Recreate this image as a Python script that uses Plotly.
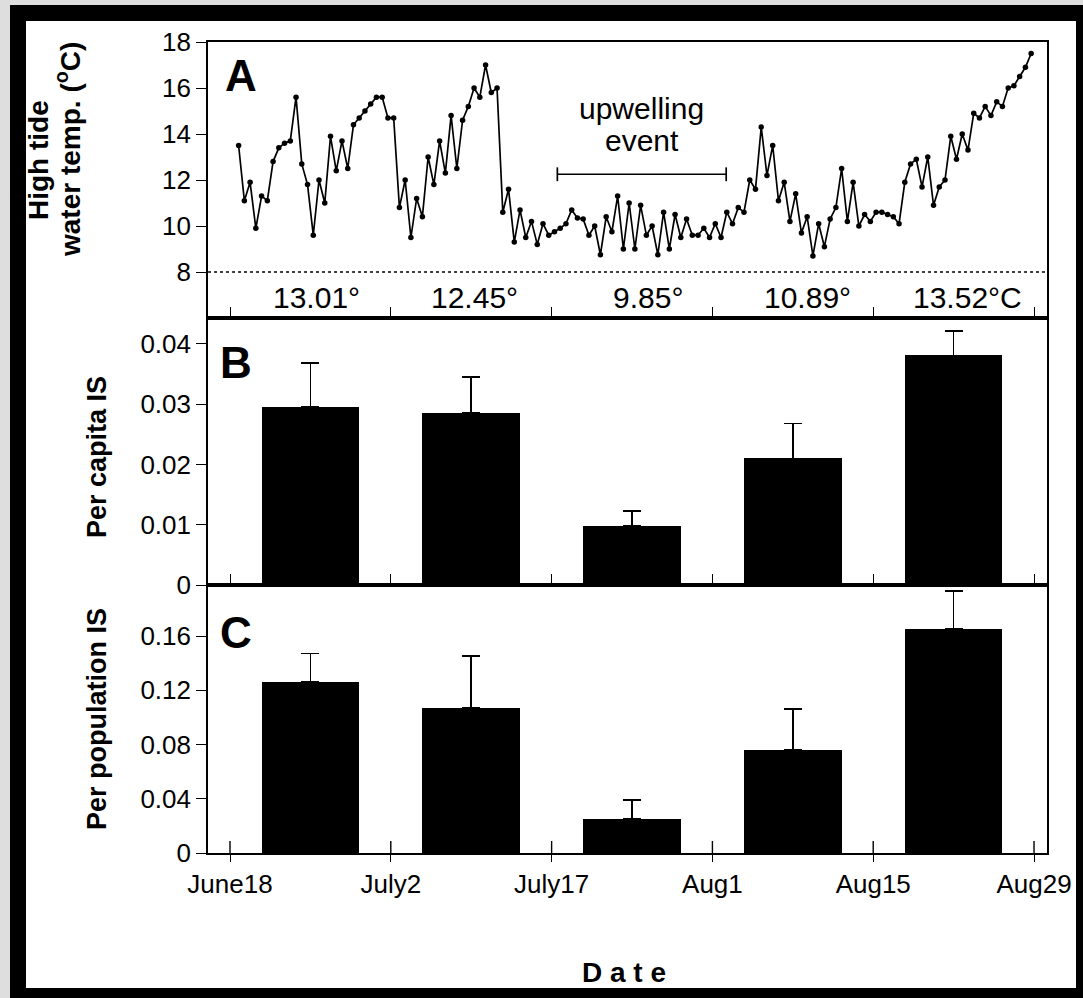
import plotly.graph_objects as go

# ---------------- data ----------------
# High-tide water temperature (deg C), two high tides per day from June 18
temp = [13.5, 11.1, 11.9, 9.9, 11.3, 11.1, 12.8, 13.4, 13.6, 13.7, 15.6, 12.7,
        11.8, 9.6, 12.0, 11.0, 13.9, 12.4, 13.7, 12.5, 14.4, 14.7, 15.0,
        15.3, 15.6, 15.6, 14.7, 14.7, 10.8, 12.0, 9.5, 11.2, 10.4, 13.0, 11.8,
        13.7, 12.3, 14.8, 12.5, 14.6, 15.2, 16.0, 15.6, 17.0, 15.8, 16.0,
        10.6, 11.6, 9.3, 10.7, 9.5, 10.2, 9.2, 10.1, 9.6, 9.75, 9.9, 10.1,
        10.7, 10.35, 10.3, 9.6, 10.0, 8.75, 10.4, 9.75, 11.3, 9.0, 11.0, 9.0,
        10.9, 9.6, 10.0, 8.75, 10.6, 9.0, 10.5, 9.5, 10.3, 9.6, 9.6, 9.9, 9.5,
        10.1, 9.5, 10.6, 10.1, 10.8, 10.6, 12.0, 11.6,
        14.3, 12.2, 13.5, 11.1, 11.9, 10.2, 11.4, 9.7, 10.4, 8.7, 10.1, 9.1,
        10.3, 10.8, 12.5, 10.2, 11.9, 10.0, 10.5, 10.2, 10.6, 10.6, 10.5, 10.4,
        10.1, 11.9, 12.7, 12.9, 11.7, 13.0, 10.9, 11.7, 12.0, 13.9, 12.9, 14.0,
        13.3, 14.9, 14.7, 15.2, 14.8, 15.4, 15.2, 16.0, 16.1, 16.5, 16.9, 17.5]
first_tide_day = 0.75      # days after June 18 of the first record
tide_step = 0.5            # semi-diurnal high tides
obs_day = [first_tide_day + tide_step * k for k in range(len(temp))]

# Sampling periods (centre day) and their mean temperatures
period_day = [7, 21, 35, 49, 63]
period_mean = ["13.01\u00b0", "12.45\u00b0", "9.85\u00b0", "10.89\u00b0", "13.52\u00b0C"]
period_label_day = [7.5, 21.3, 36.4, 50.3, 64.2]

# Interaction strength
per_capita = [0.0296, 0.0285, 0.0098, 0.0210, 0.0381]
per_capita_se = [0.0072, 0.0060, 0.0025, 0.0058, 0.0040]
per_population = [0.126, 0.107, 0.025, 0.076, 0.165]
per_population_se = [0.021, 0.038, 0.014, 0.030, 0.028]

date_ticks = [0, 14, 28, 42, 56, 70]
date_labels = ["June18", "July2", "July17", "Aug1", "Aug15", "Aug29"]

upwelling_span = [28.5, 43.2]
upwelling_level = 12.25

# ---------------- layout helpers ----------------
W, H = 1083, 998
FONT = "Liberation Sans, Arial, sans-serif"


def px(x):
    return x / W


def py(y):
    return (H - y) / H


X_LEFT, X_RIGHT = 208, 1047
Y_A_TOP, Y_AB, Y_BC, Y_C_BOT = 42, 318, 585, 853
x_range = [-1.915, 71.13]

fig = go.Figure()

fig.add_trace(go.Scatter(
    x=obs_day, y=temp, mode="lines+markers", xaxis="x", yaxis="y",
    line=dict(color="black", width=1.7),
    marker=dict(color="black", size=5.5), showlegend=False))

bar_width = 8.5
fig.add_trace(go.Bar(
    x=period_day, y=per_capita, width=bar_width, xaxis="x2", yaxis="y2",
    marker=dict(color="black", line=dict(width=0)),
    error_y=dict(type="data", array=per_capita_se, arrayminus=[0] * 5,
                 symmetric=False, color="black", thickness=1.7, width=9),
    showlegend=False))

fig.add_trace(go.Bar(
    x=period_day, y=per_population, width=bar_width, xaxis="x3", yaxis="y3",
    marker=dict(color="black", line=dict(width=0)),
    error_y=dict(type="data", array=per_population_se, arrayminus=[0] * 5,
                 symmetric=False, color="black", thickness=1.7, width=9),
    showlegend=False))

TICK_SIZE = 26
axis_common = dict(showline=True, linecolor="black", linewidth=1.6,
                   mirror=True, showgrid=False, zeroline=False,
                   automargin=False,
                   tickcolor="black", tickwidth=1.4,
                   tickfont=dict(family=FONT, size=TICK_SIZE, color="black"))

xdom = [px(X_LEFT), px(X_RIGHT)]
fig.update_layout(
    xaxis=dict(domain=xdom, range=x_range, anchor="y", tickvals=date_ticks,
               showticklabels=False, ticks="inside", ticklen=11, **axis_common),
    xaxis2=dict(domain=xdom, range=x_range, anchor="y2", matches="x",
                tickvals=date_ticks, showticklabels=False, ticks="inside",
                ticklen=11, **axis_common),
    xaxis3=dict(domain=xdom, range=x_range, anchor="y3", matches="x",
                tickvals=date_ticks, ticktext=date_labels, ticks="outside",
                ticklen=7, **axis_common),
    yaxis=dict(domain=[py(Y_AB), py(Y_A_TOP)], range=[6, 18],
               tickvals=[8, 10, 12, 14, 16, 18], ticks="outside", ticklen=10,
               **axis_common),
    yaxis2=dict(domain=[py(Y_BC), py(Y_AB)], range=[0, 0.0443],
                tickvals=[0, 0.01, 0.02, 0.03, 0.04],
                ticktext=["0", "0.01", "0.02", "0.03", "0.04"],
                ticks="outside", ticklen=10, **axis_common),
    yaxis3=dict(domain=[py(Y_C_BOT), py(Y_BC)], range=[0, 0.1976],
                tickvals=[0, 0.04, 0.08, 0.12, 0.16],
                ticktext=["0", "0.04", "0.08", "0.12", "0.16"],
                ticks="outside", ticklen=10, **axis_common),
)

# ---------------- frame and reference lines ----------------
shapes = [
    dict(type="rect", xref="paper", yref="paper", layer="below",
         x0=px(10), x1=px(1083), y0=py(998), y1=py(5),
         fillcolor="black", line=dict(width=0)),
    dict(type="rect", xref="paper", yref="paper", layer="below",
         x0=px(26), x1=px(1076), y0=py(988), y1=py(21),
         fillcolor="white", line=dict(width=0)),
    # 8 deg C reference line
    dict(type="line", xref="x domain", yref="y", x0=0, x1=1, y0=8, y1=8,
         line=dict(color="black", width=1.5, dash="dot")),
    # upwelling event bracket
    dict(type="line", xref="x", yref="y", x0=upwelling_span[0],
         x1=upwelling_span[1], y0=upwelling_level, y1=upwelling_level,
         line=dict(color="black", width=1.7)),
]
for xe in upwelling_span:
    shapes.append(dict(type="line", xref="x", yref="y", x0=xe, x1=xe,
                       y0=upwelling_level - 0.3, y1=upwelling_level + 0.3,
                       line=dict(color="black", width=1.7)))
# date ticks on the bottom axis cross the axis line
for d in date_ticks:
    shapes.append(dict(type="line", xref="x3", yref="paper", x0=d, x1=d,
                       y0=py(Y_C_BOT), y1=py(Y_C_BOT - 12),
                       line=dict(color="black", width=1.4)))


def note(x, y, text, size, bold=False, angle=0, xref="paper", yref="paper"):
    return dict(x=x, y=y, xref=xref, yref=yref, text=text, showarrow=False,
                xanchor="center", yanchor="middle", textangle=angle,
                font=dict(family=FONT, size=size, color="black"))


annotations = []
for d, label in zip(period_label_day, period_mean):
    annotations.append(note(d, py(298), label, 30, xref="x"))

mid_up = (upwelling_span[0] + upwelling_span[1]) / 2
annotations.append(note(mid_up, py(108), "upwelling", 30, xref="x"))
annotations.append(note(mid_up, py(141), "event", 30, xref="x"))

for letter, (lx, ly) in zip("ABC", [(241, 75), (236, 362), (236, 632)]):
    annotations.append(note(px(lx), py(ly), "<b>%s</b>" % letter, 44))

annotations += [
    note(px(38), py(160), "<b>High tide</b>", 28, angle=-90),
    note(px(68), py(150), "<b>water temp. (<sup>o</sup>C)</b>", 28, angle=-90),
    note(px(97), py(457), "<b>Per capita IS</b>", 27, angle=-90),
    note(px(97), py(719), "<b>Per population IS</b>", 27, angle=-90),
    note(px(624), py(972), "<b>D a t e</b>", 28),
]

fig.update_layout(
    width=W, height=H,
    margin=dict(l=0, r=0, t=0, b=0, pad=0, autoexpand=False),
    paper_bgcolor="#dedede", plot_bgcolor="white",
    shapes=shapes, annotations=annotations, bargap=0,
)

fig.write_html("out.html")
